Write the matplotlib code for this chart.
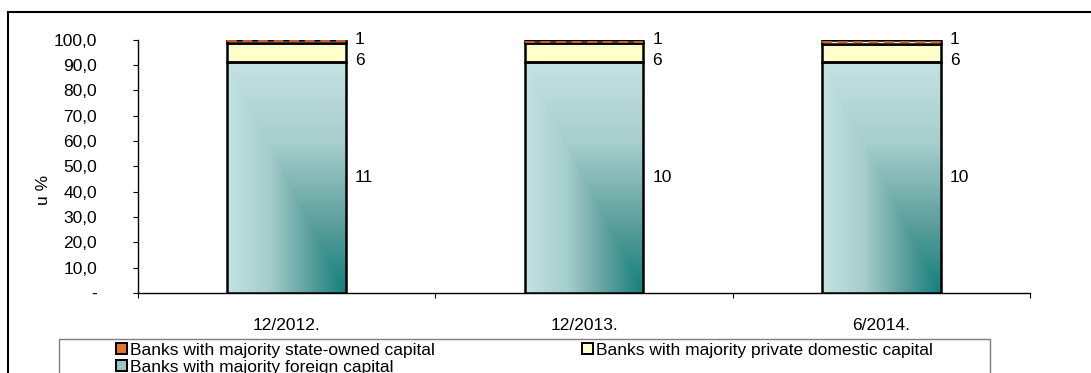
import numpy as np
import matplotlib.pyplot as plt
from matplotlib.colors import LinearSegmentedColormap
from matplotlib.patches import Patch, Rectangle
from matplotlib.lines import Line2D
from matplotlib.ticker import FuncFormatter

plt.rcParams['font.family'] = ['Liberation Sans', 'DejaVu Sans']

# --- data: share in total assets (%) and number of banks ---
periods = ['12/2012.', '12/2013.', '6/2014.']
foreign = [91.1, 91.0, 91.1]
private_domestic = [7.5, 7.5, 7.3]
state_owned = [1.4, 1.5, 1.6]
n_foreign = [11, 10, 10]
n_private = [6, 6, 6]
n_state = [1, 1, 1]

legend_labels = ['Banks with majority state-owned capital',
                 'Banks with majority private domestic capital',
                 'Banks with majority foreign capital']

W, H = 1091, 373
fig = plt.figure(figsize=(W / 100, H / 100), dpi=100)
ax = fig.add_axes([138 / W, (H - 293) / H, (1030 - 138) / W, (293 - 39.7) / H])

x = np.arange(len(periods))
width = 0.40
fs = 12.5

teal = LinearSegmentedColormap.from_list(
    'teal', [(0.0, '#13807b'), (0.3, '#5c9f9c'), (0.65, '#a6cecc'), (1.0, '#c4e2e1')])

foreign_bars = ax.bar(x, foreign, width, color='#c4e2e1', edgecolor='none', zorder=2)
priv_bottom = np.array(foreign)
ax.bar(x, private_domestic, width, bottom=priv_bottom, color='#ffffcc',
       edgecolor='black', linewidth=1.8, zorder=4)
state_bottom = priv_bottom + np.array(private_domestic)
ax.bar(x, state_owned, width, bottom=state_bottom, color='#f6ecd6',
       edgecolor='black', linewidth=1.8, zorder=4)

# corner gradient on the foreign-capital segment
for bar in foreign_bars:
    x0, y0 = bar.get_x(), bar.get_y()
    w, h = bar.get_width(), bar.get_height()
    gx, gy = np.meshgrid(np.linspace(0, 1, 200), np.linspace(0, 1, 300))
    d = np.maximum(1 - gx, gy)
    im = ax.imshow(d, cmap=teal, origin='lower', extent=(x0, x0 + w, y0, y0 + h),
                   aspect='auto', zorder=3, interpolation='bilinear')
    im.set_clip_path(bar)
ax.bar(x, foreign, width, color='none', edgecolor='black', linewidth=1.8, zorder=4)

# dashed pattern of the state-owned segment
for xi, b, s in zip(x, state_bottom, state_owned):
    ax.hlines(b + s / 2, xi - width / 2, xi + width / 2, colors='#d2601a',
              linewidth=1.4, linestyles=(0, (5, 3)), zorder=5)

# number of banks next to each segment
dx = width / 2 + 0.03
for xi, f, p, s, nf, npv, ns in zip(x, foreign, private_domestic, state_owned,
                                      n_foreign, n_private, n_state):
    ax.text(xi + dx, f / 2, str(nf), fontsize=fs, va='center', ha='left')
    ax.text(xi + dx, f + 0.8, str(npv), fontsize=fs, va='center', ha='left')
    ax.text(xi + dx, f + p + s, str(ns), fontsize=fs, va='center', ha='left')

ax.set_xlim(-0.5, len(periods) - 0.5)
ax.set_ylim(0, 100)
ax.set_yticks(np.arange(0, 101, 10))
ax.yaxis.set_major_formatter(FuncFormatter(
    lambda v, pos: '-' if v == 0 else f'{v:.1f}'.replace('.', ',')))
ax.tick_params(axis='y', direction='out', length=3.6, width=0.8, pad=26, labelsize=fs)

ax.set_xticks(np.arange(-0.5, len(periods), 1.0))
ax.set_xticklabels([])
ax.set_xticks(x, minor=True)
ax.set_xticklabels(periods, minor=True)
ax.tick_params(axis='x', which='major', direction='out', length=3.6, width=0.8)
ax.tick_params(axis='x', which='minor', length=0, pad=18, labelsize=fs)

for side in ('top', 'right'):
    ax.spines[side].set_visible(False)
for side in ('left', 'bottom'):
    ax.spines[side].set_linewidth(1.0)

fig.text(43 / W, 1 - 190 / H, 'u %', rotation=90, fontsize=fs, ha='center', va='center')

# outer chart frame
top = 1 - 12 / H
fig.add_artist(Line2D([8 / W, 8 / W], [-0.1, top], color='black', linewidth=1.5))
fig.add_artist(Line2D([8 / W, 1.1], [top, top], color='black', linewidth=1.5))

# legend
fig.add_artist(Rectangle((59 / W, -0.2), (990 - 59) / W, 0.2 + (H - 339) / H,
                         transform=fig.transFigure, facecolor='none',
                         edgecolor='#7f7f7f', linewidth=1.0))
colors = ['#e8742a', '#ffffcc', '#9cc6c4']
handles = [Patch(facecolor=c, edgecolor='black', linewidth=1.4) for c in colors]
common = dict(frameon=False, fontsize=fs, borderpad=0, borderaxespad=0,
              handlelength=0.62, handleheight=0.6, handletextpad=0.2,
              labelspacing=0.12, loc='upper left')
fig.legend([handles[0], handles[2]], [legend_labels[0], legend_labels[2]],
           bbox_to_anchor=(116 / W, 1 - 343 / H), **common)
fig.legend([handles[1]], [legend_labels[1]],
           bbox_to_anchor=(582 / W, 1 - 343 / H), **common)

fig.savefig('out.png', dpi=100)
